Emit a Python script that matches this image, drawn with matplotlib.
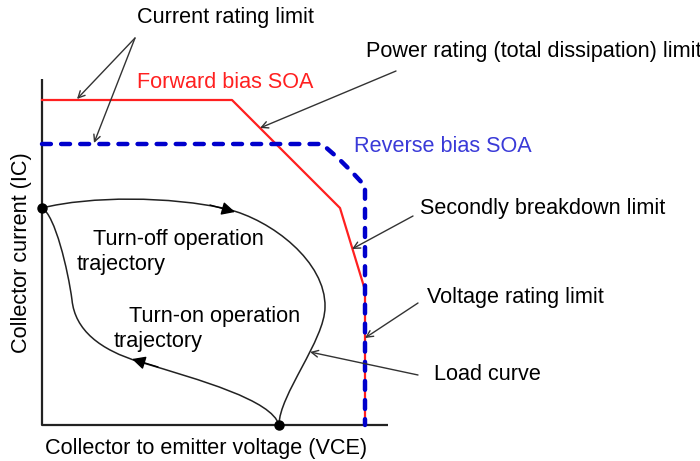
import matplotlib
matplotlib.use("Agg")
import matplotlib.pyplot as plt
from matplotlib.path import Path
import matplotlib.patches as patches

plt.rcParams['font.family'] = ['Liberation Sans', 'DejaVu Sans']

# schematic coordinates (picture pixels, y grows downwards)
axis_x = [42, 42, 388]
axis_y = [79, 425, 425]

fwd_x = [42, 232, 340, 365, 365]
fwd_y = [100, 100, 208, 290, 425]

rev_x = [42, 322, 338, 352, 365, 365]
rev_y = [144, 144, 158, 172, 186, 425]

# trajectory as cubic bezier chains: start, (c1, c2, end) ...
turn_off = [(42, 208),
            (90, 196), (170, 196), (227, 209),
            (272, 220), (326, 262), (325, 307),
            (325, 340), (279, 395), (279, 425)]
turn_on = [(279, 425),
           (272, 400), (200, 380), (140, 362),
           (100, 350), (75, 330), (72, 300),
           (68, 270), (55, 215), (42, 208)]
dots_x = [42, 279]
dots_y = [208, 425]

# labels: (text, x, y, colour)
labels = [
    ("Current rating limit", 137, 18, "black"),
    ("Forward bias SOA", 137, 83, "#ff2020"),
    ("Power rating (total dissipation) limit", 366, 52, "black"),
    ("Reverse bias SOA", 354, 146, "#3a3ad8"),
    ("Secondly breakdown limit", 420, 208, "black"),
    ("Voltage rating limit", 427, 297, "black"),
    ("Load curve", 434, 374, "black"),
    ("Turn-off operation", 93, 239, "black"),
    ("trajectory", 77, 264, "black"),
    ("Turn-on operation", 129, 316, "black"),
    ("trajectory", 114, 341, "black"),
]

# pointer arrows: (tail, head)
pointers = [
    ((135, 38), (77, 99)),
    ((135, 38), (94, 143)),
    ((396, 71), (260, 128)),
    ((413, 216), (352, 249)),
    ((418, 303), (365, 338)),
    ((418, 375), (310, 352)),
]

# flow arrows on trajectory: (tail, head)
flows = [((210, 205), (235, 212)),
         ((158, 367), (132, 359))]


def bezier_path(pts):
    codes = [Path.MOVETO] + [Path.CURVE4] * (len(pts) - 1)
    return Path(pts, codes)


fig = plt.figure(figsize=(7, 4.61), dpi=100)
ax = fig.add_axes([0, 0, 1, 1])
ax.set_xlim(0, 700)
ax.set_ylim(461, 0)
ax.axis('off')

ax.plot(axis_x, axis_y, color='#222222', lw=1.6, solid_capstyle='butt')

ax.plot(fwd_x, fwd_y, color='#ff2020', lw=1.6, zorder=3)
ax.plot(rev_x, rev_y, color='#0000cc', lw=3.2, linestyle=(0, (2.0, 2.3)),
        dash_capstyle='round', zorder=4)

for pts in (turn_off, turn_on):
    ax.add_patch(patches.PathPatch(bezier_path(pts), facecolor='none',
                                   edgecolor='#222222', lw=1.1, zorder=2))
ax.plot(dots_x, dots_y, 'o', color='black', markersize=6.5, zorder=5)

for tail, head in flows:
    ax.annotate('', xy=head, xytext=tail,
                arrowprops=dict(arrowstyle='-|>', color='black', lw=1,
                                mutation_scale=20, shrinkA=0, shrinkB=0))

for tail, head in pointers:
    ax.annotate('', xy=head, xytext=tail,
                arrowprops=dict(arrowstyle='->', color='#333333', lw=1,
                                mutation_scale=12, shrinkA=0, shrinkB=0),
                zorder=6)

for txt, x, y, c in labels:
    ax.text(x, y, txt, color=c, fontsize=15.6, ha='left', va='center')

ax.text(22, 253, "Collector current (IC)", fontsize=15.6, rotation=90,
        ha='center', va='center')
ax.text(45, 448, "Collector to emitter voltage (VCE)", fontsize=15.6,
        ha='left', va='center')

fig.savefig("out.png", dpi=100)
